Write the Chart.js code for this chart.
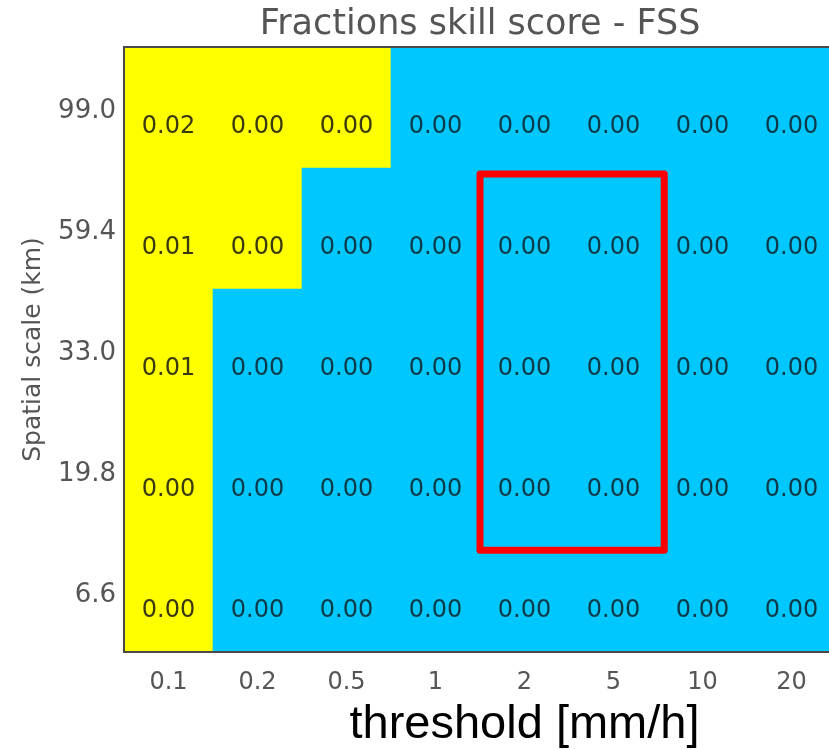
<!DOCTYPE html>
<html>
<head>
<meta charset="utf-8">
<script src="https://cdn.jsdelivr.net/npm/chart.js@4.4.1/dist/chart.umd.min.js"></script>
<style>
  html, body { margin: 0; padding: 0; background: #fff; overflow: hidden; }
  #wrap { width: 829px; height: 750px; overflow: hidden; }
  #wrap div { width: 836px; height: 750px; }
</style>
</head>
<body>
<div id="wrap"><div><canvas id="fss"></canvas></div></div>
<script>
// thresholds (x) and spatial scales (y, bottom to top)
var thresholds = ['0.1', '0.2', '0.5', '1', '2', '5', '10', '20'];
var spatialScales = ['6.6', '19.8', '33.0', '59.4', '99.0'];

// FSS per spatial scale
var fss_6_6  = [0.00, 0.00, 0.00, 0.00, 0.00, 0.00, 0.00, 0.00];
var fss_19_8 = [0.00, 0.00, 0.00, 0.00, 0.00, 0.00, 0.00, 0.00];
var fss_33_0 = [0.01, 0.00, 0.00, 0.00, 0.00, 0.00, 0.00, 0.00];
var fss_59_4 = [0.01, 0.00, 0.00, 0.00, 0.00, 0.00, 0.00, 0.00];
var fss_99_0 = [0.02, 0.00, 0.00, 0.00, 0.00, 0.00, 0.00, 0.00];

// 1 = skilful (yellow), 0 = not skilful (blue)
var useful_6_6  = [1, 0, 0, 0, 0, 0, 0, 0];
var useful_19_8 = [1, 0, 0, 0, 0, 0, 0, 0];
var useful_33_0 = [1, 0, 0, 0, 0, 0, 0, 0];
var useful_59_4 = [1, 1, 0, 0, 0, 0, 0, 0];
var useful_99_0 = [1, 1, 1, 0, 0, 0, 0, 0];

var fssRows = [fss_6_6, fss_19_8, fss_33_0, fss_59_4, fss_99_0];
var usefulRows = [useful_6_6, useful_19_8, useful_33_0, useful_59_4, useful_99_0];

var YELLOW = '#ffff00';
var BLUE = '#00c8fe';

var datasets = [];
for (var r = 0; r < spatialScales.length; r++) {
  datasets.push({
    label: spatialScales[r],
    data: thresholds.map(function(){ return 1; }),
    backgroundColor: usefulRows[r].map(function(u){ return u ? YELLOW : BLUE; }),
    borderWidth: 0,
    categoryPercentage: 1.0,
    barPercentage: 1.0
  });
}

var cellText = {
  id: 'cellText',
  afterDatasetsDraw: function(chart) {
    var ctx = chart.ctx;
    ctx.save();
    ctx.font = '24px "DejaVu Sans"';
    ctx.textAlign = 'center';
    ctx.textBaseline = 'middle';
    chart.data.datasets.forEach(function(ds, r) {
      var meta = chart.getDatasetMeta(r);
      meta.data.forEach(function(bar, i) {
        ctx.fillStyle = usefulRows[r][i] ? '#3a3a10' : '#0d3a48';
        ctx.fillText(fssRows[r][i].toFixed(2), bar.x, (bar.y + bar.base) / 2 + 19);
      });
    });
    ctx.restore();
  }
};

var frameAndMarks = {
  id: 'frameAndMarks',
  afterDraw: function(chart) {
    var ctx = chart.ctx, a = chart.chartArea;
    var xs = chart.scales.x, ys = chart.scales.y;
    ctx.save();
    // plot frame
    ctx.strokeStyle = '#4a4a4a';
    ctx.lineWidth = 2;
    ctx.strokeRect(a.left, a.top, a.right - a.left, a.bottom - a.top);
    // red highlight box around thresholds 2 and 5
    ctx.strokeStyle = '#ff0000';
    ctx.lineWidth = 7;
    ctx.lineJoin = 'round';
    var x1 = xs.getPixelForValue(3.5), x2 = xs.getPixelForValue(5.57);
    var y1 = ys.getPixelForValue(3.95), y2 = ys.getPixelForValue(0.84);
    ctx.strokeRect(x1, y1, x2 - x1, y2 - y1);
    // x axis label
    ctx.fillStyle = '#000';
    ctx.font = '47px "Liberation Sans"';
    ctx.textAlign = 'center';
    ctx.textBaseline = 'alphabetic';
    ctx.fillText('threshold [mm/h]', xs.getPixelForValue(4), a.bottom + 86);
    ctx.restore();
  }
};

var chart = new Chart(document.getElementById('fss'), {
  type: 'bar',
  data: { labels: thresholds, datasets: datasets },
  options: {
    responsive: true,
    maintainAspectRatio: false,
    animation: false,
    layout: { padding: 0 },
    plugins: {
      legend: { display: false },
      tooltip: { enabled: false },
      title: {
        display: true,
        text: 'Fractions skill score - FSS',
        fullSize: false,
        color: '#555',
        font: { family: 'DejaVu Sans', size: 35, weight: 'normal' },
        padding: { top: 4, bottom: 1 }
      }
    },
    scales: {
      x: {
        stacked: true,
        grid: { display: false },
        border: { display: false },
        ticks: { color: '#555', padding: 8, font: { family: 'DejaVu Sans', size: 24 } },
        afterFit: function(s) { s.height = 98; }
      },
      y: {
        stacked: true,
        min: 0,
        max: spatialScales.length,
        grid: { display: false },
        border: { display: false },
        afterBuildTicks: function(s) {
          s.ticks = spatialScales.map(function(lab, i){ return { value: i + 0.5 }; });
        },
        ticks: {
          color: '#555',
          padding: 0,
          labelOffset: 4,
          font: { family: 'DejaVu Sans', size: 26 },
          callback: function(v, i) { return spatialScales[i]; }
        },
        title: {
          display: true,
          text: 'Spatial scale (km)',
          color: '#555',
          font: { family: 'DejaVu Sans', size: 25 },
          padding: { top: 18, bottom: 0 }
        },
        afterFit: function(s) { s.width = 124; }
      }
    }
  },
  plugins: [cellText, frameAndMarks]
});
</script>
</body>
</html>
